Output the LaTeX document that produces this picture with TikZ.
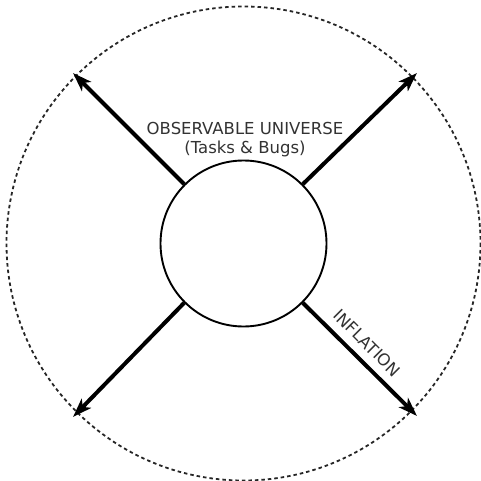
\documentclass[tikz,border=0pt]{standalone}
\usepackage{fontspec}
\setmainfont{DejaVu Sans}
\usetikzlibrary{arrows.meta}
\begin{document}
\begin{tikzpicture}[x=1pt,y=-1pt,
  outerring/.style={draw=black!85, line width=1.8pt, dash pattern=on 3.5pt off 3pt},
  core/.style={circle, draw=black, line width=1.9pt, minimum size=166pt, inner sep=0pt},
  expand/.style={line width=4pt, -{Stealth[length=19pt,width=13pt,inset=5pt]}},
  lbl/.style={text=black!80, font=\fontsize{16.5}{19}\selectfont, align=center}]
\useasboundingbox (0,0) rectangle (481,481);
\fill[white] (0,0) rectangle (481,481);
\coordinate (c) at (243.5,243.5);
\draw[outerring] (c) circle (237);
\node[core] (u) at (c) {};
\coordinate (tl) at (73,73);
\coordinate (tr) at (417,73);
\coordinate (bl) at (73,417);
\coordinate (br) at (417,416);
\draw[expand] (u.135) -- (tl);
\draw[expand] (u.45) -- (tr);
\draw[expand] (u.225) -- (bl);
\draw[expand] (u.-45) -- (br);
\node[lbl] (t1) at (245,128) {OBSERVABLE UNIVERSE};
\node[lbl] (t2) at (245,149) {(Tasks \& Bugs)};
\node[lbl, rotate=-45] (inf) at (367,343) {INFLATION};
\end{tikzpicture}
\end{document}
